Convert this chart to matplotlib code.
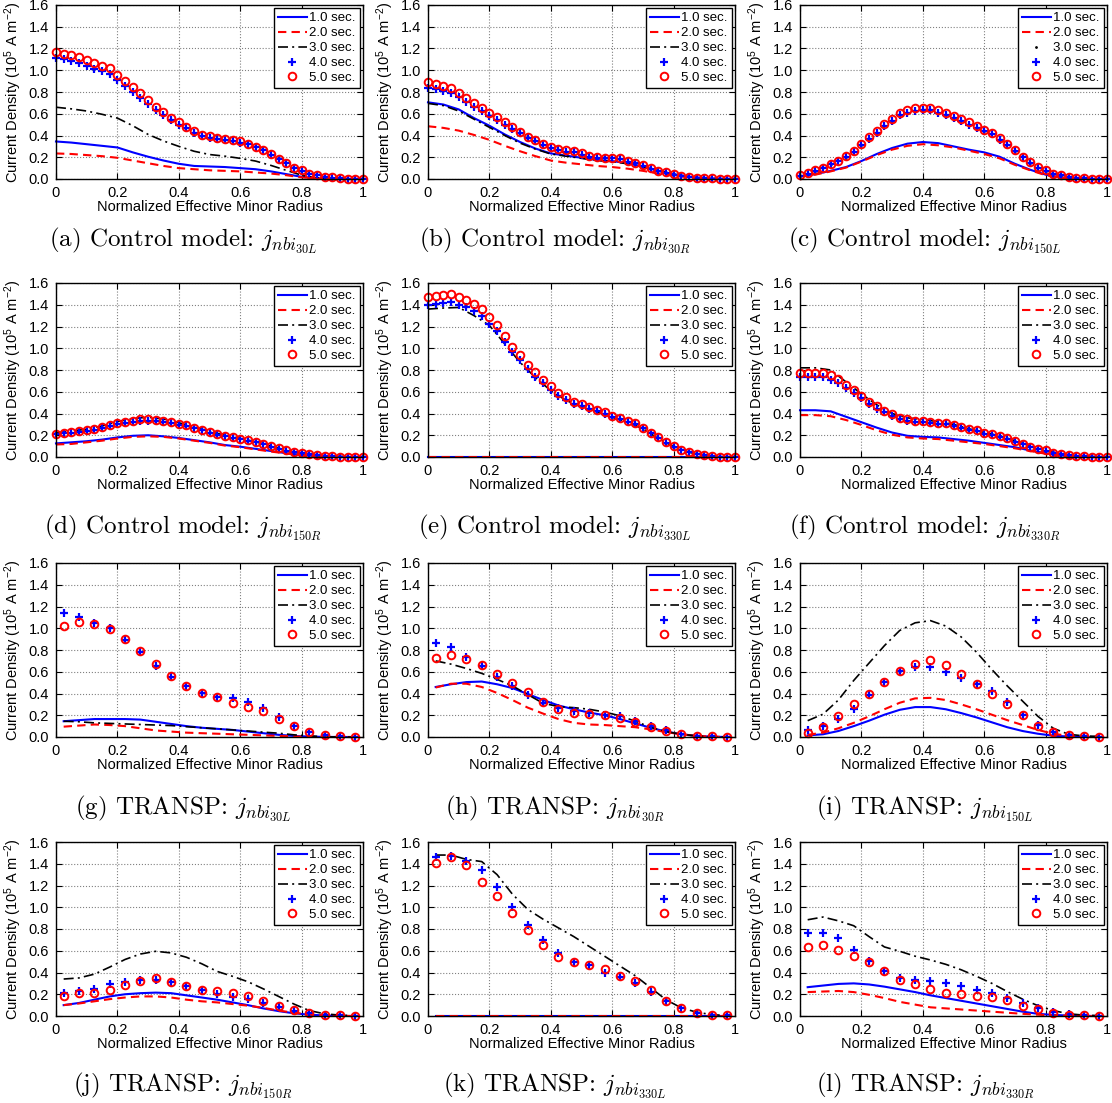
import numpy as np
import matplotlib.pyplot as plt

plt.rcParams["font.family"] = ["Liberation Sans", "DejaVu Sans"]
plt.rcParams["mathtext.fontset"] = "custom"
plt.rcParams["mathtext.rm"] = "Liberation Sans"
plt.rcParams["mathtext.it"] = "Liberation Sans:italic"

# radial grids
rho_line = np.linspace(0, 1, 21)     # control model curves
rho_mark = np.linspace(0, 1, 41)     # control model markers
rho_transp = np.linspace(0.025, 0.975, 20)

time_labels = ["1.0 sec.", "2.0 sec.", "3.0 sec.", "4.0 sec.", "5.0 sec."]

# ---- control model ----
c30L_1 = [0.345, 0.335, 0.32, 0.305, 0.29, 0.245, 0.205, 0.17, 0.14, 0.12, 0.115, 0.11, 0.10, 0.09, 0.07, 0.045, 0.02, 0.005, 0, 0, 0]
c30L_2 = [0.235, 0.23, 0.22, 0.21, 0.195, 0.17, 0.145, 0.12, 0.10, 0.09, 0.08, 0.075, 0.07, 0.06, 0.05, 0.035, 0.015, 0.005, 0, 0, 0]
c30L_3 = [0.66, 0.645, 0.625, 0.595, 0.56, 0.49, 0.41, 0.35, 0.30, 0.255, 0.225, 0.21, 0.19, 0.165, 0.125, 0.08, 0.035, 0.01, 0.003, 0, 0]
c30L_4 = [1.11, 1.10, 1.085, 1.065, 1.04, 1.01, 0.99, 0.97, 0.91, 0.855, 0.80, 0.745, 0.69, 0.635, 0.59, 0.54, 0.50, 0.465, 0.425, 0.395,
          0.38, 0.365, 0.355, 0.345, 0.335, 0.32, 0.29, 0.265, 0.225, 0.18, 0.145, 0.10, 0.075, 0.05, 0.035, 0.02, 0.012, 0.005, 0.002, 0, 0]
c30L_5 = [1.17, 1.15, 1.14, 1.12, 1.09, 1.065, 1.04, 1.02, 0.96, 0.90, 0.845, 0.79, 0.725, 0.665, 0.615, 0.56, 0.525, 0.48, 0.44, 0.405,
          0.395, 0.38, 0.37, 0.36, 0.345, 0.325, 0.295, 0.27, 0.23, 0.185, 0.15, 0.105, 0.08, 0.05, 0.035, 0.02, 0.015, 0.005, 0.002, 0, 0]

c30R_1 = [0.705, 0.685, 0.64, 0.56, 0.49, 0.41, 0.34, 0.28, 0.235, 0.215, 0.195, 0.175, 0.165, 0.145, 0.115, 0.075, 0.045, 0.02, 0.008, 0.002, 0]
c30R_2 = [0.485, 0.47, 0.445, 0.405, 0.36, 0.305, 0.255, 0.21, 0.17, 0.15, 0.135, 0.12, 0.11, 0.095, 0.075, 0.05, 0.03, 0.015, 0.005, 0, 0]
c30R_3 = [0.695, 0.675, 0.625, 0.55, 0.475, 0.40, 0.33, 0.275, 0.23, 0.21, 0.19, 0.17, 0.16, 0.14, 0.11, 0.075, 0.045, 0.02, 0.008, 0.002, 0]
c30R_4 = [0.84, 0.825, 0.81, 0.795, 0.75, 0.71, 0.665, 0.625, 0.58, 0.545, 0.50, 0.46, 0.42, 0.375, 0.345, 0.31, 0.285, 0.265, 0.25, 0.245,
          0.225, 0.205, 0.195, 0.19, 0.19, 0.18, 0.16, 0.145, 0.12, 0.095, 0.075, 0.055, 0.04, 0.028, 0.018, 0.01, 0.007, 0.004, 0.002, 0, 0]
c30R_5 = [0.89, 0.87, 0.855, 0.835, 0.79, 0.745, 0.70, 0.655, 0.61, 0.57, 0.525, 0.48, 0.435, 0.39, 0.355, 0.32, 0.295, 0.275, 0.265, 0.255,
          0.235, 0.215, 0.205, 0.195, 0.195, 0.19, 0.17, 0.15, 0.125, 0.10, 0.075, 0.06, 0.045, 0.03, 0.02, 0.012, 0.008, 0.005, 0.002, 0, 0]

c150L_1 = [0.025, 0.045, 0.075, 0.11, 0.165, 0.23, 0.285, 0.325, 0.34, 0.33, 0.30, 0.27, 0.245, 0.205, 0.14, 0.085, 0.04, 0.015, 0.005, 0, 0]
c150L_2 = [0.025, 0.04, 0.07, 0.105, 0.16, 0.22, 0.27, 0.305, 0.32, 0.31, 0.29, 0.26, 0.23, 0.19, 0.13, 0.08, 0.035, 0.012, 0.004, 0, 0]
c150L_3 = [0.03, 0.075, 0.135, 0.205, 0.31, 0.425, 0.535, 0.61, 0.63, 0.61, 0.56, 0.50, 0.44, 0.36, 0.255, 0.15, 0.075, 0.033, 0.011, 0.002, 0]
c150L_4 = [0.03, 0.05, 0.075, 0.10, 0.135, 0.165, 0.205, 0.25, 0.31, 0.365, 0.425, 0.485, 0.535, 0.585, 0.61, 0.625, 0.63, 0.63, 0.61, 0.59,
           0.56, 0.53, 0.50, 0.47, 0.44, 0.41, 0.36, 0.315, 0.255, 0.20, 0.15, 0.105, 0.075, 0.048, 0.033, 0.018, 0.011, 0.005, 0.002, 0.001, 0]
c150L_5 = [0.035, 0.055, 0.08, 0.105, 0.14, 0.17, 0.215, 0.26, 0.325, 0.385, 0.445, 0.505, 0.555, 0.605, 0.63, 0.65, 0.65, 0.655, 0.635, 0.61,
           0.58, 0.55, 0.52, 0.49, 0.455, 0.425, 0.375, 0.325, 0.265, 0.205, 0.155, 0.11, 0.08, 0.05, 0.035, 0.02, 0.012, 0.006, 0.003, 0.001, 0]

c150R_1 = [0.125, 0.135, 0.145, 0.16, 0.18, 0.195, 0.20, 0.19, 0.175, 0.155, 0.135, 0.11, 0.095, 0.075, 0.055, 0.035, 0.02, 0.008, 0.003, 0, 0]
c150R_2 = [0.115, 0.12, 0.135, 0.15, 0.17, 0.185, 0.19, 0.185, 0.17, 0.15, 0.13, 0.105, 0.09, 0.07, 0.05, 0.032, 0.018, 0.007, 0.002, 0, 0]
c150R_3 = [0.22, 0.24, 0.255, 0.285, 0.325, 0.355, 0.365, 0.35, 0.315, 0.275, 0.235, 0.20, 0.17, 0.14, 0.10, 0.06, 0.035, 0.017, 0.007, 0.002, 0]
c150R_4 = [0.21, 0.22, 0.225, 0.23, 0.24, 0.25, 0.265, 0.285, 0.30, 0.315, 0.325, 0.335, 0.335, 0.33, 0.32, 0.31, 0.295, 0.285, 0.265, 0.245,
           0.225, 0.205, 0.19, 0.175, 0.165, 0.15, 0.135, 0.115, 0.095, 0.075, 0.058, 0.043, 0.033, 0.023, 0.016, 0.01, 0.007, 0.004, 0.002, 0, 0]
c150R_5 = [0.215, 0.225, 0.23, 0.235, 0.245, 0.255, 0.275, 0.295, 0.31, 0.325, 0.335, 0.345, 0.345, 0.34, 0.33, 0.32, 0.305, 0.29, 0.27, 0.25,
           0.23, 0.21, 0.195, 0.18, 0.17, 0.155, 0.14, 0.12, 0.10, 0.08, 0.06, 0.045, 0.035, 0.025, 0.017, 0.01, 0.007, 0.004, 0.002, 0, 0]

c330L_1 = [0] * 21
c330L_2 = [0] * 21
c330L_3 = [1.36, 1.37, 1.375, 1.30, 1.21, 1.04, 0.87, 0.73, 0.61, 0.52, 0.46, 0.415, 0.365, 0.32, 0.26, 0.17, 0.095, 0.043, 0.015, 0.004, 0]
c330L_4 = [1.40, 1.41, 1.42, 1.425, 1.40, 1.375, 1.34, 1.30, 1.225, 1.155, 1.06, 0.97, 0.89, 0.81, 0.74, 0.68, 0.62, 0.565, 0.525, 0.49,
           0.465, 0.44, 0.42, 0.395, 0.37, 0.35, 0.325, 0.30, 0.265, 0.22, 0.175, 0.13, 0.095, 0.063, 0.043, 0.025, 0.015, 0.008, 0.004, 0.002, 0]
c330L_5 = [1.475, 1.485, 1.49, 1.50, 1.47, 1.44, 1.405, 1.365, 1.29, 1.21, 1.115, 1.015, 0.935, 0.85, 0.78, 0.71, 0.65, 0.59, 0.55, 0.51,
           0.485, 0.46, 0.435, 0.41, 0.38, 0.36, 0.335, 0.31, 0.27, 0.225, 0.18, 0.135, 0.10, 0.065, 0.045, 0.025, 0.015, 0.008, 0.004, 0.002, 0]

c330R_1 = [0.43, 0.43, 0.42, 0.37, 0.32, 0.27, 0.225, 0.195, 0.185, 0.18, 0.165, 0.15, 0.13, 0.11, 0.09, 0.06, 0.035, 0.015, 0.005, 0, 0]
c330R_2 = [0.385, 0.385, 0.375, 0.34, 0.295, 0.245, 0.205, 0.18, 0.17, 0.165, 0.15, 0.135, 0.12, 0.10, 0.08, 0.055, 0.03, 0.012, 0.004, 0, 0]
c330R_3 = [0.82, 0.82, 0.80, 0.69, 0.58, 0.48, 0.40, 0.36, 0.345, 0.325, 0.30, 0.26, 0.225, 0.195, 0.15, 0.095, 0.06, 0.03, 0.012, 0.004, 0]
c330R_4 = [0.735, 0.735, 0.735, 0.735, 0.71, 0.685, 0.635, 0.59, 0.54, 0.49, 0.445, 0.41, 0.38, 0.35, 0.335, 0.325, 0.32, 0.31, 0.305, 0.30,
           0.285, 0.27, 0.25, 0.235, 0.215, 0.20, 0.185, 0.165, 0.14, 0.115, 0.09, 0.07, 0.055, 0.038, 0.028, 0.017, 0.011, 0.007, 0.004, 0.002, 0]
c330R_5 = [0.77, 0.77, 0.77, 0.77, 0.75, 0.72, 0.665, 0.615, 0.565, 0.51, 0.465, 0.425, 0.395, 0.36, 0.345, 0.335, 0.33, 0.32, 0.315, 0.31,
           0.295, 0.28, 0.26, 0.245, 0.225, 0.21, 0.195, 0.175, 0.15, 0.12, 0.095, 0.075, 0.06, 0.04, 0.03, 0.018, 0.012, 0.007, 0.004, 0.002, 0]

# ---- TRANSP ----
t30L_1 = [0.145, 0.155, 0.165, 0.165, 0.165, 0.16, 0.14, 0.12, 0.10, 0.085, 0.075, 0.065, 0.05, 0.035, 0.02, 0.01, 0.004, 0.001, 0, 0]
t30L_2 = [0.095, 0.105, 0.115, 0.11, 0.10, 0.08, 0.06, 0.05, 0.04, 0.035, 0.03, 0.025, 0.02, 0.015, 0.01, 0.005, 0.002, 0, 0, 0]
t30L_3 = [0.145, 0.14, 0.13, 0.125, 0.12, 0.115, 0.11, 0.105, 0.095, 0.085, 0.075, 0.065, 0.055, 0.045, 0.035, 0.02, 0.01, 0.003, 0, 0]
t30L_4 = [1.14, 1.105, 1.05, 1.0, 0.89, 0.78, 0.655, 0.555, 0.47, 0.405, 0.37, 0.355, 0.32, 0.265, 0.185, 0.10, 0.05, 0.02, 0.005, 0.002]
t30L_5 = [1.02, 1.06, 1.035, 0.995, 0.905, 0.79, 0.675, 0.56, 0.465, 0.405, 0.365, 0.315, 0.275, 0.235, 0.165, 0.10, 0.045, 0.015, 0.005, 0.002]

t30R_1 = [0.46, 0.485, 0.505, 0.51, 0.485, 0.45, 0.395, 0.34, 0.29, 0.255, 0.225, 0.20, 0.165, 0.125, 0.085, 0.05, 0.025, 0.01, 0.003, 0]
t30R_2 = [0.455, 0.49, 0.49, 0.46, 0.405, 0.34, 0.27, 0.215, 0.165, 0.13, 0.115, 0.11, 0.10, 0.09, 0.07, 0.045, 0.025, 0.01, 0.003, 0]
t30R_3 = [0.70, 0.67, 0.63, 0.585, 0.53, 0.47, 0.39, 0.31, 0.28, 0.27, 0.255, 0.23, 0.195, 0.145, 0.09, 0.05, 0.025, 0.01, 0.003, 0]
t30R_4 = [0.86, 0.825, 0.74, 0.65, 0.55, 0.47, 0.39, 0.315, 0.265, 0.24, 0.22, 0.205, 0.19, 0.15, 0.10, 0.06, 0.03, 0.012, 0.005, 0.002]
t30R_5 = [0.725, 0.75, 0.72, 0.66, 0.575, 0.495, 0.41, 0.32, 0.26, 0.225, 0.215, 0.20, 0.175, 0.14, 0.095, 0.055, 0.03, 0.012, 0.005, 0.002]

t150L_1 = [0.015, 0.025, 0.055, 0.10, 0.15, 0.205, 0.25, 0.275, 0.275, 0.255, 0.22, 0.18, 0.135, 0.09, 0.055, 0.03, 0.012, 0.004, 0.001, 0]
t150L_2 = [0.02, 0.04, 0.08, 0.13, 0.19, 0.255, 0.315, 0.355, 0.36, 0.34, 0.30, 0.255, 0.205, 0.155, 0.11, 0.065, 0.03, 0.01, 0.003, 0]
t150L_3 = [0.15, 0.21, 0.34, 0.52, 0.68, 0.84, 0.98, 1.05, 1.07, 1.02, 0.92, 0.78, 0.62, 0.47, 0.33, 0.19, 0.08, 0.025, 0.01, 0.005]
t150L_4 = [0.06, 0.105, 0.17, 0.255, 0.385, 0.505, 0.61, 0.64, 0.645, 0.60, 0.545, 0.485, 0.42, 0.32, 0.20, 0.11, 0.05, 0.018, 0.006, 0.002]
t150L_5 = [0.04, 0.09, 0.19, 0.30, 0.40, 0.51, 0.605, 0.675, 0.705, 0.66, 0.58, 0.49, 0.40, 0.30, 0.20, 0.105, 0.045, 0.015, 0.005, 0.002]

t150R_1 = [0.10, 0.12, 0.15, 0.18, 0.20, 0.21, 0.215, 0.21, 0.19, 0.17, 0.15, 0.125, 0.10, 0.07, 0.045, 0.025, 0.012, 0.005, 0.001, 0]
t150R_2 = [0.10, 0.115, 0.135, 0.155, 0.17, 0.18, 0.18, 0.17, 0.15, 0.135, 0.125, 0.11, 0.095, 0.075, 0.05, 0.03, 0.015, 0.005, 0.001, 0]
t150R_3 = [0.34, 0.35, 0.385, 0.45, 0.52, 0.57, 0.595, 0.58, 0.54, 0.48, 0.41, 0.365, 0.315, 0.25, 0.18, 0.11, 0.05, 0.02, 0.008, 0.003]
t150R_4 = [0.215, 0.23, 0.25, 0.29, 0.31, 0.33, 0.33, 0.31, 0.28, 0.24, 0.205, 0.175, 0.155, 0.12, 0.08, 0.05, 0.03, 0.012, 0.005, 0.002]
t150R_5 = [0.185, 0.215, 0.21, 0.24, 0.285, 0.325, 0.345, 0.315, 0.275, 0.24, 0.23, 0.21, 0.18, 0.14, 0.09, 0.055, 0.03, 0.012, 0.005, 0.002]

t330L_1 = [0] * 20
t330L_2 = [0] * 20
t330L_3 = [1.48, 1.48, 1.44, 1.42, 1.30, 1.12, 0.98, 0.89, 0.81, 0.73, 0.64, 0.55, 0.46, 0.37, 0.26, 0.15, 0.075, 0.035, 0.012, 0.005]
t330L_4 = [1.465, 1.475, 1.425, 1.345, 1.19, 1.005, 0.84, 0.70, 0.58, 0.495, 0.465, 0.40, 0.36, 0.305, 0.225, 0.14, 0.075, 0.03, 0.01, 0.005]
t330L_5 = [1.41, 1.465, 1.385, 1.23, 1.10, 0.945, 0.795, 0.655, 0.545, 0.50, 0.465, 0.435, 0.37, 0.32, 0.24, 0.14, 0.07, 0.03, 0.01, 0.005]

t330R_1 = [0.265, 0.28, 0.295, 0.30, 0.29, 0.27, 0.245, 0.22, 0.19, 0.165, 0.14, 0.115, 0.09, 0.065, 0.04, 0.02, 0.01, 0.004, 0.001, 0]
t330R_2 = [0.22, 0.225, 0.23, 0.22, 0.195, 0.165, 0.13, 0.105, 0.08, 0.07, 0.06, 0.05, 0.04, 0.03, 0.02, 0.012, 0.006, 0.002, 0, 0]
t330R_3 = [0.885, 0.91, 0.875, 0.83, 0.73, 0.635, 0.595, 0.55, 0.515, 0.475, 0.425, 0.365, 0.30, 0.225, 0.155, 0.095, 0.05, 0.02, 0.008, 0.003]
t330R_4 = [0.76, 0.76, 0.715, 0.605, 0.505, 0.41, 0.35, 0.33, 0.32, 0.305, 0.275, 0.24, 0.21, 0.17, 0.12, 0.07, 0.035, 0.015, 0.005, 0.002]
t330R_5 = [0.635, 0.655, 0.61, 0.555, 0.50, 0.41, 0.33, 0.29, 0.245, 0.215, 0.20, 0.185, 0.175, 0.145, 0.095, 0.06, 0.03, 0.012, 0.005, 0.002]

panels = [
    ("a", "Control model", "30L", rho_line, rho_mark, [c30L_1, c30L_2, c30L_3, c30L_4, c30L_5]),
    ("b", "Control model", "30R", rho_line, rho_mark, [c30R_1, c30R_2, c30R_3, c30R_4, c30R_5]),
    ("c", "Control model", "150L", rho_line, rho_mark, [c150L_1, c150L_2, c150L_3, c150L_4, c150L_5]),
    ("d", "Control model", "150R", rho_line, rho_mark, [c150R_1, c150R_2, c150R_3, c150R_4, c150R_5]),
    ("e", "Control model", "330L", rho_line, rho_mark, [c330L_1, c330L_2, c330L_3, c330L_4, c330L_5]),
    ("f", "Control model", "330R", rho_line, rho_mark, [c330R_1, c330R_2, c330R_3, c330R_4, c330R_5]),
    ("g", "TRANSP", "30L", rho_transp, rho_transp, [t30L_1, t30L_2, t30L_3, t30L_4, t30L_5]),
    ("h", "TRANSP", "30R", rho_transp, rho_transp, [t30R_1, t30R_2, t30R_3, t30R_4, t30R_5]),
    ("i", "TRANSP", "150L", rho_transp, rho_transp, [t150L_1, t150L_2, t150L_3, t150L_4, t150L_5]),
    ("j", "TRANSP", "150R", rho_transp, rho_transp, [t150R_1, t150R_2, t150R_3, t150R_4, t150R_5]),
    ("k", "TRANSP", "330L", rho_transp, rho_transp, [t330L_1, t330L_2, t330L_3, t330L_4, t330L_5]),
    ("l", "TRANSP", "330R", rho_transp, rho_transp, [t330R_1, t330R_2, t330R_3, t330R_4, t330R_5]),
]

W, H = 1112, 1103
col_left = [56, 428, 800]
row_top = [5, 283, 563, 842]
ax_w, ax_h = 307, 174
caption_x = [183, 555, 925]
caption_y = [240, 527, 808, 1085]

fig = plt.figure(figsize=(W / 100, H / 100), dpi=100)

for i, (tag, source, beam, x_line, x_mark, series) in enumerate(panels):
    r, c = divmod(i, 3)
    ax = fig.add_axes([col_left[c] / W, 1 - (row_top[r] + ax_h) / H, ax_w / W, ax_h / H])

    ax.plot(x_line, series[0], color="blue", lw=1.5, clip_on=False, label=time_labels[0])
    ax.plot(x_line, series[1], color="red", lw=1.5, dashes=(4, 2.5), clip_on=False, label=time_labels[1])
    if tag == "c":
        # 3.0 s profile only shows as dots under the markers here
        ax.plot(x_line, series[2], color="black", ls="none", marker=".", ms=2, clip_on=False, label=time_labels[2])
    else:
        ax.plot(x_line, series[2], color="black", lw=1.2, dashes=(6, 2.5, 1.2, 2.5), clip_on=False,
                label=time_labels[2])
    ax.plot(x_mark, series[3], color="blue", ls="none", marker="+", ms=5.5, mew=1.6, clip_on=False,
            label=time_labels[3])
    ax.plot(x_mark, series[4], color="red", ls="none", marker="o", ms=5.5, mew=1.4, mfc="none", clip_on=False,
            label=time_labels[4])

    ax.set_xlim(0, 1)
    ax.set_ylim(0, 1.6)
    ax.set_xticks([0, 0.2, 0.4, 0.6, 0.8, 1.0])
    ax.set_xticklabels(["0", "0.2", "0.4", "0.6", "0.8", "1"])
    ax.set_yticks(np.arange(0, 1.61, 0.2))
    ax.set_yticklabels(["%.1f" % v for v in np.arange(0, 1.61, 0.2)])
    ax.tick_params(direction="in", top=True, right=True, length=4, width=0.8, labelsize=10.5, pad=5)
    ax.grid(True, linestyle=":", color="0.5", linewidth=0.8)
    for sp in ax.spines.values():
        sp.set_linewidth(1.0)

    ax.set_xlabel("Normalized Effective Minor Radius", fontsize=10.5, labelpad=0)
    ax.set_ylabel("Current Density (10$^{5}$ A m$^{-2}$)", fontsize=10.5, labelpad=3)

    leg = ax.legend(loc="upper right", fontsize=9.5, fancybox=False, edgecolor="black", framealpha=1,
                    borderaxespad=0.25, labelspacing=0.2, handlelength=2.2, handletextpad=0.2, borderpad=0.3)
    leg.get_frame().set_linewidth(1.0)

    fig.text(caption_x[c] / W, 1 - caption_y[r] / H,
             "(%s) %s: $j_{nbi_{%s}}$" % (tag, source, beam),
             family="cmr10", math_fontfamily="cm", fontsize=18, ha="center", va="center")

fig.savefig("out.png", dpi=100)
